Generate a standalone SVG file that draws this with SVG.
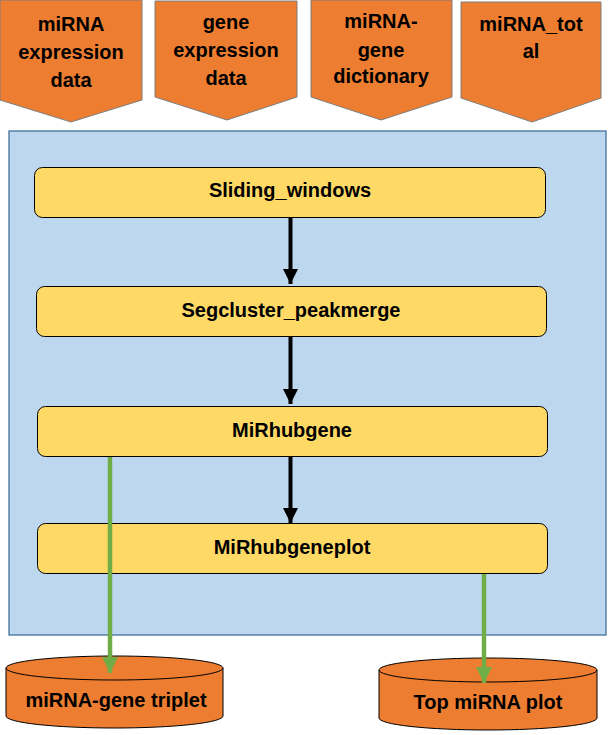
<svg xmlns="http://www.w3.org/2000/svg" width="608" height="735" viewBox="0 0 608 735">
<defs>
<style>
.in{fill:#ED7D31;stroke:#7f7f7f;stroke-width:1}
.t{font-family:"Liberation Sans",Arial,sans-serif;font-weight:bold;font-size:20px;fill:#000;text-anchor:middle}
.box{fill:#FFD966;stroke:#000;stroke-width:1}
.blk{stroke:#000;stroke-width:4;fill:none}
.grn{stroke:#70AD47;stroke-width:4.5;fill:none}
.cyl{fill:#ED7D31;stroke:#000;stroke-width:1}
</style>
<marker id="ab" markerUnits="userSpaceOnUse" markerWidth="15" markerHeight="15" viewBox="0 0 15 15" refX="15" refY="7.5" orient="auto"><path d="M0,0 L15,7.5 L0,15 Z" fill="#000"/></marker>
<marker id="ag" markerUnits="userSpaceOnUse" markerWidth="16" markerHeight="16" viewBox="0 0 16 16" refX="16" refY="8" orient="auto"><path d="M0,0 L16,8 L0,16 Z" fill="#70AD47"/></marker>
</defs>
<rect width="608" height="735" fill="#fff"/>
<g id="input-mirna-expression">
<path class="in" d="M0,0 H142 V100 L71,122 L0,100 Z"/>
<text class="t" x="71" y="31">miRNA</text>
<text class="t" x="71" y="59">expression</text>
<text class="t" x="71" y="87">data</text>
</g>
<g id="input-gene-expression">
<path class="in" d="M155,1 H297 V97 L227,120 L155,97 Z"/>
<text class="t" x="226" y="29">gene</text>
<text class="t" x="226" y="57">expression</text>
<text class="t" x="226" y="85">data</text>
</g>
<g id="input-mirna-gene-dictionary">
<path class="in" d="M311,0 H452 V97 L381,120 L311,97 Z"/>
<text class="t" x="381" y="28">miRNA-</text>
<text class="t" x="381" y="57">gene</text>
<text class="t" x="381" y="83">dictionary</text>
</g>
<g id="input-mirna-total">
<path class="in" d="M461,2 H601 V98 L532,122 L461,98 Z"/>
<text class="t" x="531" y="31">miRNA_tot</text>
<text class="t" x="531" y="58">al</text>
</g>
<g id="container">
<rect x="9" y="131" width="597" height="504" fill="#BDD7EE" stroke="#41719C" stroke-width="1.3"/>
</g>
<g id="sliding-windows">
<rect class="box" x="34.5" y="167.5" width="511" height="50" rx="8"/>
<text class="t" x="290" y="197">Sliding_windows</text>
</g>
<g id="segcluster-peakmerge">
<rect class="box" x="36.5" y="286.5" width="510" height="50" rx="8"/>
<text class="t" x="291" y="317">Segcluster_peakmerge</text>
</g>
<g id="mirhubgene">
<rect class="box" x="37.5" y="406.5" width="510" height="50" rx="8"/>
<text class="t" x="292" y="437">MiRhubgene</text>
</g>
<g id="mirhubgeneplot">
<rect class="box" x="37.5" y="523.5" width="510" height="50" rx="8"/>
<text class="t" x="292" y="554">MiRhubgeneplot</text>
</g>
<g id="triplet">
<path class="cyl" d="M6,668 V716 A108.5,12 0 0 0 223,716 V668"/>
<ellipse class="cyl" cx="114.5" cy="668" rx="108.5" ry="12"/>
<text class="t" x="116" y="707">miRNA-gene triplet</text>
</g>
<g id="top-mirna-plot">
<path class="cyl" d="M379,670 V718 A109,12 0 0 0 597,718 V670"/>
<ellipse class="cyl" cx="488" cy="670" rx="109" ry="12"/>
<text class="t" x="488" y="709">Top miRNA plot</text>
</g>
<g id="connectors">
<line class="blk" x1="290.5" y1="218" x2="290.5" y2="284" marker-end="url(#ab)"/>
<line class="blk" x1="290.5" y1="337" x2="290.5" y2="404" marker-end="url(#ab)"/>
<line class="blk" x1="290.5" y1="457" x2="290.5" y2="523" marker-end="url(#ab)"/>
<line class="grn" x1="110" y1="457" x2="110" y2="673" marker-end="url(#ag)"/>
<line class="grn" x1="484" y1="574" x2="484" y2="683" marker-end="url(#ag)"/>
</g>
</svg>
